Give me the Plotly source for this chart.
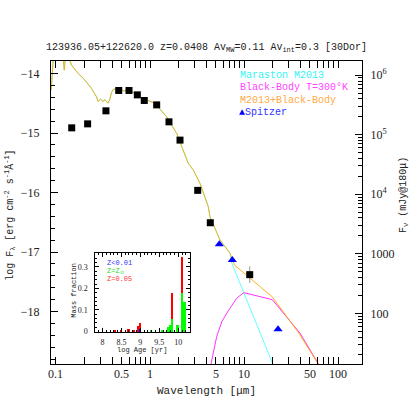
import math
import plotly.graph_objects as go

# photometry: wavelength [micron], log F_lambda
phot_wave = [0.147, 0.217, 0.340, 0.465, 0.598, 0.733, 0.869, 1.178, 1.592, 2.085, 3.217, 4.378, 11.5]
phot_logf = [-14.913, -14.846, -14.627, -14.285, -14.285, -14.359, -14.453, -14.527,
             -14.812, -15.119, -15.963, -16.507, -17.379]
phot_err = [0, 0, 0, 0, 0, 0, 0, 0, 0, 0, 0, 0, 0.14]

spitzer_wave = [5.46, 7.51, 23.0]
spitzer_logf = [-16.869, -17.133, -18.296]

# model spectrum, UV to near-IR (shared by M2013 and M2013+BB)
opt_wave = [0.0891, 0.0918, 0.0940, 0.1186, 0.1225, 0.1262, 0.1359, 0.1455, 0.1714, 0.2018,
            0.2375, 0.2685, 0.280, 0.2974, 0.316, 0.332, 0.357, 0.3727, 0.3874, 0.4038,
            0.4378, 0.462, 0.4953, 0.529, 0.5598, 0.632, 0.7147, 0.783, 1.130, 1.505,
            1.923, 2.357, 2.554, 2.888, 3.404, 4.171, 4.345, 5.553, 7.10]
opt_logf = [-14.28, -13.91, -13.69, -13.69, -13.945, -13.69, -13.69, -13.856, -13.995, -14.107,
            -14.247, -14.386, -14.470, -14.431, -14.470, -14.44, -14.498, -14.443, -14.331, -14.275,
            -14.247, -14.28, -14.275, -14.297, -14.275, -14.292, -14.347, -14.393, -14.503, -14.728,
            -15.007, -15.371, -15.510, -15.622, -15.846, -16.238, -16.406, -16.797, -17.020]

# mid-IR tails
ssp_ir_wave = [7.33, 10.37, 14.69, 20.6]
ssp_ir_logf = [-17.168, -17.753, -18.341, -18.91]
tot_ir_wave = [7.96, 12.62, 20.0, 37.5, 61.7, 67.6]
tot_ir_logf = [-17.221, -17.49, -17.753, -18.341, -18.866, -18.98]

# black body T=300K
bb_wave = [4.296, 4.456, 5.123, 5.8, 6.76, 8.36, 9.93, 20.0, 39.4, 61.7, 67.6]
bb_logf = [-19.06, -18.88, -18.419, -18.17, -17.993, -17.775, -17.681, -17.799, -18.362, -18.866, -18.98]

# inset: star formation history (mass fraction per log age)
sfh_age = [8.33, 8.50, 8.70, 8.84, 8.95, 9.00, 9.29, 9.60, 9.75, 9.80, 9.85, 10.00, 10.11, 10.18]
sfh_low = [0, 0, 0, 0, 0, 0.010, 0, 0, 0, 0, 0, 0, 0, 0]
sfh_sun = [0, 0, 0, 0, 0, 0, 0.004, 0.005, 0.02, 0.03, 0.056, 0.03, 0.18, 0.138]
sfh_high = [0.003, 0.005, 0.012, 0.003, 0.025, 0.028, 0, 0, 0, 0, 0.121, 0, 0.165, 0]

# wavelength tick labels
wave_ticks = [0.1, 0.5, 1, 5, 10, 50, 100]
wave_ticktext = ['0.1', '0.5', '1', '5', '10', '50', '100']

fig = go.Figure()

# M2013 model, lies under the combined curve in the optical
fig.add_trace(go.Scatter(x=opt_wave + ssp_ir_wave, y=opt_logf + ssp_ir_logf, mode='lines',
                         line=dict(color='#00ffff', width=1), opacity=0.6))
fig.add_trace(go.Scatter(x=bb_wave, y=bb_logf, mode='lines',
                         line=dict(color='#ff00ff', width=1), opacity=0.8))
fig.add_trace(go.Scatter(x=opt_wave + tot_ir_wave, y=opt_logf + tot_ir_logf, mode='lines',
                         line=dict(color='#ffaa00', width=1), opacity=0.9))

fig.add_trace(go.Scatter(x=phot_wave, y=phot_logf, mode='markers',
                         marker=dict(symbol='square', size=7, color='black'),
                         error_y=dict(type='data', array=phot_err, color='#999999',
                                      thickness=1, width=0)))
fig.add_trace(go.Scatter(x=spitzer_wave, y=spitzer_logf, mode='markers',
                         marker=dict(symbol='triangle-up', size=8, color='#0000ff')))

# dummy trace so the right hand F_nu axis gets drawn
fig.add_trace(go.Scatter(x=[None], y=[None], yaxis='y2', hoverinfo='skip'))

for vals, col in ((sfh_low, '#0000ff'), (sfh_sun, '#00ff00'), (sfh_high, '#ff0000')):
    fig.add_trace(go.Bar(x=sfh_age, y=vals, width=0.045, marker=dict(color=col, line=dict(width=0)),
                         xaxis='x3', yaxis='y3'))

dec = [m * 10 ** e for e in range(-2, 7) for m in range(2, 10)]

fig.update_layout(
    width=415, height=415,
    margin=dict(l=51, r=53, t=61, b=51),
    paper_bgcolor='white', plot_bgcolor='white',
    showlegend=False, barmode='stack',
    font=dict(family='Liberation Mono', size=10, color='#222222'),
    title=dict(text='123936.05+122620.0 z=0.0408 Av<sub>MW</sub>=0.11 Av<sub>int</sub>=0.3 [30Dor]',
               x=0.5, xref='paper', xanchor='center', y=1 - 46.7 / 415, yref='container',
               yanchor='middle', font=dict(size=10)),
    xaxis=dict(type='log', range=[-1.053, 2.255],
               tickvals=wave_ticks, showticklabels=False,
               ticks='inside', ticklen=7, tickcolor='black', showline=True, linecolor='black',
               mirror='allticks', showgrid=False, zeroline=False,
               minor=dict(tickmode='array', tickvals=[v for v in dec if v < 200],
                          ticks='inside', ticklen=4, tickcolor='black')),
    yaxis=dict(range=[-18.88, -13.79], tickvals=[-18, -17, -16, -15, -14],
               ticks='inside', ticklen=7, tickcolor='black', showline=True, linecolor='black',
               showgrid=False, zeroline=False, ticklabelstandoff=8,
               tickfont=dict(family='Liberation Serif', size=12),
               minor=dict(dtick=0.2, ticks='inside', ticklen=4, tickcolor='black')),
    yaxis2=dict(type='log', overlaying='y', side='right', range=[1.149, 6.239],
                tickvals=[100, 1000, 1e4, 1e5, 1e6],
                ticktext=['100', '1000', '10<sup>4</sup>', '10<sup>5</sup>', '10<sup>6</sup>'],
                ticks='inside', ticklen=7, tickcolor='black', showline=True, linecolor='black',
                showgrid=False, zeroline=False, ticklabelstandoff=5,
                tickfont=dict(family='Liberation Serif', size=12),
                minor=dict(tickmode='array', tickvals=[v for v in dec if 10 < v < 2e6],
                           ticks='inside', ticklen=4, tickcolor='black')),
    xaxis3=dict(domain=[0.143, 0.447], anchor='y3', range=[7.816, 10.31],
                tickvals=[8, 8.5, 9, 9.5, 10], ticktext=['8', '8.5', '9', '9.5', '10'],
                ticks='inside', ticklen=4, tickcolor='black', showline=True, linecolor='black',
                mirror='allticks', showgrid=False, zeroline=False, ticklabelstandoff=2,
                tickfont=dict(family='Liberation Serif', size=8),
                minor=dict(dtick=0.1, ticks='inside', ticklen=2, tickcolor='black')),
    yaxis3=dict(domain=[0.105, 0.365], anchor='x3', range=[-0.003, 0.362],
                tickvals=[0, 0.1, 0.2, 0.3], ticktext=['0', '0.1', '0.2', '0.3'],
                ticks='inside', ticklen=4, tickcolor='black', showline=True, linecolor='black',
                mirror='allticks', showgrid=False, zeroline=False, ticklabelstandoff=5,
                tickfont=dict(family='Liberation Serif', size=8),
                minor=dict(dtick=0.02, ticks='inside', ticklen=2, tickcolor='black')),
)

# wavelength tick labels placed on the log axis directly
for v, t in zip(wave_ticks, wave_ticktext):
    fig.add_annotation(xref='x', yref='paper', x=math.log10(v), y=-0.034, text=t,
                       showarrow=False, xanchor='center', yanchor='middle',
                       font=dict(family='Liberation Serif', size=12, color='#222222'))

ann = [
    # axis titles
    dict(text='Wavelength [μm]', x=0.5, y=-0.088, font=dict(size=11)),
    dict(text='log F<sub>λ</sub> [erg cm<sup>-2</sup> s<sup>-1</sup>Å<sup>-1</sup>]',
         x=-0.132, y=0.492, textangle=-90, font=dict(size=10)),
    dict(text='F<sub>ν</sub> (mJy@180μ)', x=1.135, y=0.558, textangle=-90, font=dict(size=10)),
    # legend
    dict(text='Maraston M2013', x=0.602, y=0.951, xanchor='left', font=dict(color='#33f5f5')),
    dict(text='Black-Body T=300°K', x=0.602, y=0.913, xanchor='left', font=dict(color='#ff44ff')),
    dict(text='M2013+Black-Body', x=0.602, y=0.871, xanchor='left', font=dict(color='#ffaa44')),
    dict(text="<span style='color:#0000ff'>▲</span>Spitzer", x=0.598, y=0.831, xanchor='left',
         font=dict(color='#3333ff')),
    # inset
    dict(text='Mass fraction', x=0.074, y=0.242, textangle=-90, font=dict(size=7)),
    dict(text='log Age [yr]', x=0.294, y=0.046, font=dict(size=7)),
    dict(text='Z&lt;0.01', x=0.174, y=0.332, xanchor='left', font=dict(size=7, color='#3333ff')),
    dict(text='Z=Z<sub>⊙</sub>', x=0.174, y=0.306, xanchor='left', font=dict(size=7, color='#22dd22')),
    dict(text='Z=0.05', x=0.174, y=0.281, xanchor='left', font=dict(size=7, color='#ff3333')),
]
for a in ann:
    a.setdefault('xanchor', 'center')
    fig.add_annotation(xref='paper', yref='paper', showarrow=False, yanchor='middle', **a)

# drop the default page margin so the 415px figure sits flush in the window
fig.write_html('out.html', config={'displayModeBar': False},
               post_script="document.body.style.margin='0';")
